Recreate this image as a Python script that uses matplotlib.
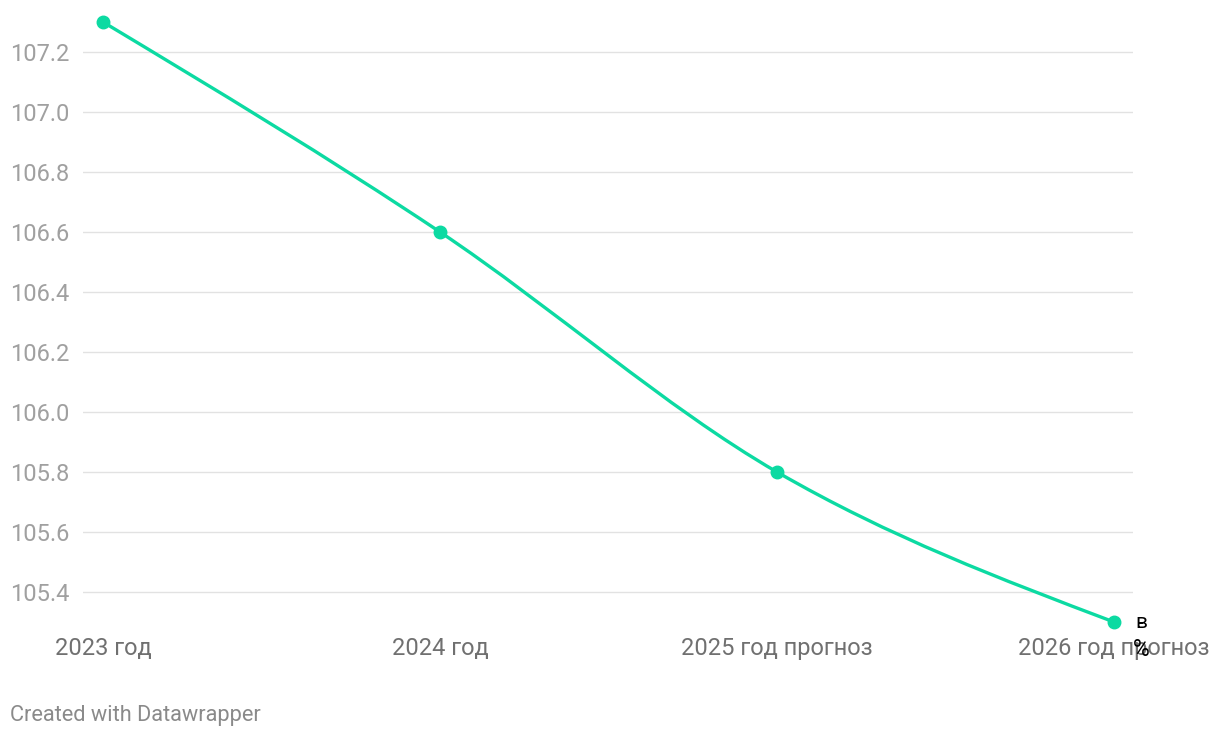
import matplotlib.pyplot as plt
from matplotlib.path import Path
from matplotlib.patches import PathPatch

plt.rcParams['font.family'] = ['Roboto', 'DejaVu Sans']

# data
years = ['2023 год', '2024 год', '2025 год прогноз', '2026 год прогноз']
values = [107.3, 106.6, 105.8, 105.3]
yticks = [105.4, 105.6, 105.8, 106.0, 106.2, 106.4, 106.6, 106.8, 107.0, 107.2]

color = '#0cdaa2'
xs = list(range(len(values)))

# monotone cubic tangents (same as d3 curveMonotoneX)
def tangents(x, y):
    n = len(x)
    s = [(y[i+1]-y[i])/(x[i+1]-x[i]) for i in range(n-1)]
    t = [0.0]*n
    for i in range(1, n-1):
        h0 = x[i]-x[i-1]; h1 = x[i+1]-x[i]
        p = (s[i-1]*h1 + s[i]*h0)/(h0+h1)
        sg = (1 if s[i-1] > 0 else -1 if s[i-1] < 0 else 0) + (1 if s[i] > 0 else -1 if s[i] < 0 else 0)
        t[i] = sg*min(abs(s[i-1]), abs(s[i]), 0.5*abs(p)) or 0.0
    t[0] = (3*s[0] - t[1])/2
    t[-1] = (3*s[-1] - t[-2])/2
    return t

tg = tangents(xs, values)
verts = [(xs[0], values[0])]
codes = [Path.MOVETO]
for i in range(len(xs)-1):
    dx = xs[i+1]-xs[i]
    verts += [(xs[i]+dx/3, values[i]+dx*tg[i]/3),
              (xs[i+1]-dx/3, values[i+1]-dx*tg[i+1]/3),
              (xs[i+1], values[i+1])]
    codes += [Path.CURVE4]*3

fig = plt.figure(figsize=(12.2, 7.38), dpi=100)
ax = fig.add_axes([83/1220, 1-622/738, 1050/1220, 600/738])

ax.add_patch(PathPatch(Path(verts, codes), facecolor='none', edgecolor=color,
                       lw=2.4, capstyle='round', joinstyle='round', zorder=3,
                       clip_on=False))
ax.plot(xs, values, 'o', color=color, ms=9, zorder=4, clip_on=False)

ax.set_xlim(-20/337, 3+19/337)
ax.set_ylim(105.3, 107.3)
ax.set_yticks(yticks)
ax.set_yticklabels([f'{v:.1f}' for v in yticks])
ax.set_xticks(xs)
ax.set_xticklabels(years)
ax.grid(axis='y', color='#e2e2e2', lw=1)
ax.set_axisbelow(True)
for sp in ax.spines.values():
    sp.set_visible(False)
ax.tick_params(axis='both', length=0)
ax.tick_params(axis='y', labelsize=17, labelcolor='#a0a0a0', pad=0)
ax.tick_params(axis='x', labelsize=17, labelcolor='#707070', pad=11)
for lab in ax.get_yticklabels():
    lab.set_horizontalalignment('left')
    lab.set_x(-73/1050)

# line label, wrapped as in the original
ax.text(3+21/337, 105.3, 'в', fontsize=15, color='black', ha='left', va='center',
        clip_on=False, zorder=6)
ax.text(3+19/337, 105.3-28/300, '%', fontsize=16.5, color='black', ha='left', va='center',
        clip_on=False, zorder=6)

fig.text(10/1220, 1-715/738, 'Created with Datawrapper', fontsize=15.7, color='#8a8a8a',
         ha='left', va='center')

fig.savefig('out.png', dpi=100)
